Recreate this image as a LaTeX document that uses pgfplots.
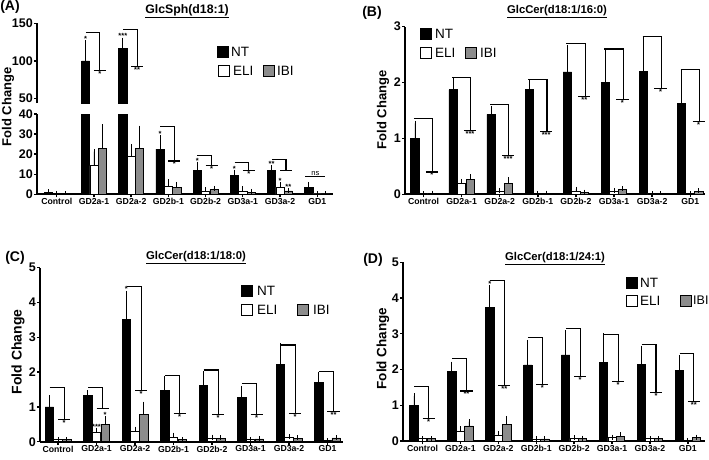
\documentclass[border=0pt]{standalone}
\usepackage{pgfplots}
\usepackage{pgfplotstable}
\pgfplotsset{compat=1.18}
\usepackage{fontspec}
\setmainfont{Liberation Sans}

\pgfplotstableread{
i NT NTe ELI ELIe IBI IBIe
0 1.0 0.3 0.4 0 0.3 0
1 100 24 14.3 7 22.7 11
2 116.5 11 18.8 5 22.7 10.3
3 22.5 5.8 3.8 2.5 3.3 1.7
4 11.7 3.3 1.7 0.5 2.5 0.5
5 9.2 1.8 1.3 1.4 1.0 0.5
6 11.7 1.6 3.7 1.0 1.7 0.3
7 3.3 1.7 0.2 0 0.2 0
}\tA
\pgfplotstableread{
i NT NTe ELI ELIe IBI IBIe
0 1.0 0.27 0.01 0 0.02 0
1 1.87 0.16 0.19 0.04 0.26 0.05
2 1.43 0.11 0.06 0.01 0.20 0.06
3 1.87 0.13 0.01 0 0.02 0
4 2.19 0.43 0.06 0.03 0.04 0
5 2.00 0.57 0.05 0.01 0.08 0.02
6 2.20 0.58 0.01 0 0.01 0
7 1.63 0.56 0.01 0 0.05 0.01
}\tB
\pgfplotstableread{
i NT NTe ELI ELIe IBI IBIe
0 1.00 0.27 0.07 0 0.06 0
1 1.32 0.09 0.28 0.05 0.50 0.17
2 3.52 0.74 0.29 0.07 0.79 0.29
3 1.48 0.34 0.12 0.07 0.07 0
4 1.61 0.35 0.10 0.03 0.10 0.01
5 1.27 0.26 0.07 0 0.08 0
6 2.22 0.54 0.13 0.01 0.10 0.01
7 1.70 0.24 0.03 0 0.11 0.01
}\tC
\pgfplotstableread{
i NT NTe ELI ELIe IBI IBIe
0 1.00 0.26 0.07 0 0.07 0
1 1.94 0.21 0.26 0.08 0.42 0.12
2 3.74 0.55 0.17 0.04 0.47 0.16
3 2.13 0.63 0.06 0 0.06 0
4 2.41 0.62 0.07 0.02 0.07 0.01
5 2.20 0.74 0.09 0.02 0.12 0.05
6 2.14 0.45 0.07 0 0.07 0
7 1.97 0.36 0.02 0 0.10 0.01
}\tD

\pgfplotsset{
  panel/.style={scale only axis, anchor=south west, axis lines=left,
    axis line style={-,line width=2pt}, enlargelimits=false, ymin=0,
    xtick={0,...,7},
    xticklabels={Control,GD2a-1,GD2a-2,GD2b-1,GD2b-2,GD3a-1,GD3a-2,GD1},
    tick align=outside, major tick length=3pt,
    tick style={black,line width=1.4pt},
    x tick label style={font=\bfseries\fontsize{8.7}{9}\selectfont, inner sep=1pt},
    y tick label style={font=\bfseries\fontsize{12.5}{13}\selectfont, inner sep=1pt},
    /pgf/number format/assume math mode=true},
  barbase/.style={ybar, bar width=0.22, bar shift=0pt, line width=0.7pt, draw=black,
    error bars/.cd, y dir=plus, y explicit,
    error bar style={line width=0.8pt,black,solid},
    error mark options={line width=0.8pt,black,mark size=2.5pt}},
  nt/.style={fill=black, barbase},
  eli/.style={fill=white, barbase},
  ibi/.style={fill=black!45, barbase},
}
\tikzset{br/.style={line width=1.1pt,black},
  st/.style={font=\bfseries\fontsize{7.5}{7.5}\selectfont, inner sep=0.6pt},
  lg/.style={anchor=west, inner sep=0pt, font=\fontsize{13.5}{13.5}\selectfont},
  sq/.style={line width=0.8pt, draw=black}}
\newcommand\brk[4]{%
  \draw[br] (axis cs:{#1-0.22},#2) -- (axis cs:{#1+0.16},#2) -- (axis cs:{#1+0.16},#3);
  \draw[br] (axis cs:{#1},#3) -- (axis cs:{#1+0.32},#3);
  \node[st,anchor=north] at (axis cs:{#1+0.16},#3) {#4};}
\newcommand\brkB[4]{%
  \draw[br] (axis cs:{#1-0.25},#2) -- (axis cs:{#1+0.24},#2) -- (axis cs:{#1+0.24},#3);
  \draw[br] (axis cs:{#1+0.06},#3) -- (axis cs:{#1+0.38},#3);
  \node[st,anchor=north] at (axis cs:{#1+0.22},#3) {#4};}
\newcommand\sa[3]{\node[st,anchor=south] at (axis cs:#1,#2) {#3};}
\newcommand\bars[1]{%
  \addplot[nt] table[x expr=\thisrow{i}-0.225, y=NT, y error=NTe]{#1};
  \addplot[eli] table[x expr=\thisrow{i}, y=ELI, y error=ELIe]{#1};
  \addplot[ibi] table[x expr=\thisrow{i}+0.225, y=IBI, y error=IBIe]{#1};}

\begin{document}
\begin{tikzpicture}
\useasboundingbox (0pt,0pt) rectangle (709pt,-460pt);

% ---------------- Panel A lower
\begin{axis}[panel, at={(37pt,-194.3pt)}, width=296pt, height=80.3pt,
  xmin=-0.532, xmax=7.425, ymax=40, ytick={0,10,20,30,40}]
\bars{\tA}
\brk{3}{33.6}{16.6}{*}
\brk{4}{19.5}{14.2}{*}
\brk{5}{15.8}{11.7}{*}
\brk{6}{17.3}{12.0}{}
\sa{2.775}{28.3}{*}
\sa{3.775}{15.0}{*}
\sa{4.775}{11.0}{*}
\sa{5.775}{13.3}{**}
\sa{6}{4.8}{*}
\sa{6.225}{2.0}{**}
\draw[br] (axis cs:6.68,8.7) -- (axis cs:7.22,8.7);
\node[anchor=south, inner sep=1pt, font=\fontsize{7.5}{7.5}\selectfont] at (axis cs:6.95,8.7) {ns};
\end{axis}
% ---------------- Panel A upper
\begin{axis}[scale only axis, anchor=south west, at={(37pt,-103pt)}, width=296pt, height=79.7pt,
  xmin=-0.532, xmax=7.425, ymin=44, ymax=150, enlargelimits=false,
  axis y line=left, axis x line=none, axis line style={-,line width=2pt},
  ytick={50,100,150}, tick align=outside, major tick length=3pt,
  tick style={black,line width=1.4pt},
  y tick label style={font=\bfseries\fontsize{12.5}{13}\selectfont, inner sep=1pt},
  /pgf/number format/assume math mode=true]
\addplot[skip coords between index={0}{1}, skip coords between index={3}{8}, nt]
  table[x expr=\thisrow{i}-0.225, y=NT, y error=NTe]{\tA};
\brk{1}{138}{87.6}{*}
\brk{2}{142}{92}{**}
\sa{0.775}{125}{*}
\sa{1.775}{128.5}{***}
\end{axis}

% ---------------- Panel B
\begin{axis}[panel, at={(405pt,-194.3pt)}, width=300pt, height=167.6pt,
  xmin=-0.486, xmax=7.388, ymax=3, ytick={0,1,2,3}]
\bars{\tB}
\brkB{0}{1.35}{0.40}{*}
\brkB{1}{2.09}{1.15}{***}
\brkB{2}{1.61}{0.69}{***}
\brkB{3}{2.06}{1.13}{***}
\brkB{4}{2.70}{1.75}{**}
\brkB{5}{2.60}{1.70}{*}
\brkB{6}{2.82}{1.90}{*}
\brkB{7}{2.24}{1.30}{*}
\end{axis}

% ---------------- Panel C
\begin{axis}[panel, at={(40pt,-441.7pt)}, width=303pt, height=174pt,
  xmin=-0.468, xmax=7.403, ymax=5, ytick={0,1,2,3,4,5}]
\bars{\tC}
\brk{0}{1.56}{0.65}{*}
\brk{1}{1.56}{0.96}{}
\brk{2}{4.45}{1.46}{*}
\brk{3}{1.91}{0.81}{*}
\brk{4}{2.06}{0.77}{*}
\brk{5}{1.66}{0.79}{*}
\brk{6}{2.78}{0.80}{*}
\brk{7}{2.03}{0.86}{**}
\sa{1.775}{4.28}{*}
\sa{1}{0.34}{***}
\sa{1.225}{0.68}{*}
\end{axis}

% ---------------- Panel D
\begin{axis}[panel, at={(403pt,-441pt)}, width=302pt, height=178.7pt,
  xmin=-0.515, xmax=7.453, ymax=5, ytick={0,1,2,3,4,5}]
\bars{\tD}
\brk{0}{1.52}{0.62}{*}
\brk{1}{2.31}{1.40}{**}
\brk{2}{4.50}{1.55}{**}
\brk{3}{2.90}{1.57}{*}
\brk{4}{3.15}{1.80}{*}
\brk{5}{2.97}{1.66}{*}
\brk{6}{2.69}{1.36}{*}
\brk{7}{2.45}{1.10}{**}
\sa{1.775}{4.30}{*}
\end{axis}

% ---------------- titles, labels, legends
\node[font=\bfseries\fontsize{14}{14}\selectfont] at (10pt,-7pt) {(A)};
\node[font=\bfseries\fontsize{14}{14}\selectfont] at (372pt,-13pt) {(B)};
\node[font=\bfseries\fontsize{14}{14}\selectfont] at (15pt,-258pt) {(C)};
\node[font=\bfseries\fontsize{14}{14}\selectfont] at (373pt,-260pt) {(D)};
\node[font=\bfseries\fontsize{12.3}{12.3}\selectfont, inner sep=0pt] at (187pt,-11pt) {\underline{GlcSph(d18:1)}};
\node[font=\bfseries\fontsize{11.3}{11.3}\selectfont, inner sep=0pt] at (557pt,-12pt) {\underline{GlcCer(d18:1/16:0)}};
\node[font=\bfseries\fontsize{11.3}{11.3}\selectfont, inner sep=0pt] at (196pt,-258pt) {\underline{GlcCer(d18:1/18:0)}};
\node[font=\bfseries\fontsize{11.3}{11.3}\selectfont, inner sep=0pt] at (555pt,-258.5pt) {\underline{GlcCer(d18:1/24:1)}};
\node[rotate=90, font=\bfseries\fontsize{13}{13}\selectfont] at (8pt,-107pt) {Fold Change};
\node[rotate=90, font=\bfseries\fontsize{13}{13}\selectfont] at (383pt,-110pt) {Fold Change};
\node[rotate=90, font=\bfseries\fontsize{14}{14}\selectfont] at (18pt,-352pt) {Fold Change};
\node[rotate=90, font=\bfseries\fontsize{13.5}{13.5}\selectfont] at (383pt,-348.5pt) {Fold Change};
% legend A
\draw[sq, fill=black] (217pt,-46pt) rectangle ++(11pt,-11pt);
\node[lg] at (231pt,-51.5pt) {NT};
\draw[sq, fill=white] (218pt,-65pt) rectangle ++(11pt,-11pt);
\node[lg] at (233pt,-70.5pt) {ELI};
\draw[sq, fill=black!45] (263pt,-65pt) rectangle ++(11pt,-11pt);
\node[lg] at (277pt,-70.5pt) {IBI};
% legend B
\draw[sq, fill=black] (420pt,-28pt) rectangle ++(11pt,-11pt);
\node[lg] at (435pt,-33.5pt) {NT};
\draw[sq, fill=white] (420pt,-47pt) rectangle ++(11pt,-11pt);
\node[lg] at (435pt,-52.5pt) {ELI};
\draw[sq, fill=black!45] (465pt,-47pt) rectangle ++(11pt,-11pt);
\node[lg] at (480pt,-52.5pt) {IBI};
% legend C
\draw[sq, fill=black] (241pt,-285pt) rectangle ++(11pt,-11pt);
\node[lg] at (257pt,-290.5pt) {NT};
\draw[sq, fill=white] (241pt,-304.5pt) rectangle ++(11pt,-11pt);
\node[lg] at (257pt,-310pt) {ELI};
\draw[sq, fill=black!45] (297.5pt,-304.5pt) rectangle ++(11pt,-11pt);
\node[lg] at (313pt,-310pt) {IBI};
% legend D
\draw[sq, fill=black] (626pt,-277pt) rectangle ++(11pt,-11pt);
\node[lg] at (640pt,-282.5pt) {NT};
\draw[sq, fill=white] (626pt,-295pt) rectangle ++(11pt,-11pt);
\node[lg] at (640pt,-300.5pt) {ELI};
\draw[sq, fill=black!45] (680pt,-295pt) rectangle ++(11pt,-11pt);
\node[lg, font=\fontsize{12.5}{12.5}\selectfont] at (693pt,-300.5pt) {IBI};
\end{tikzpicture}
\end{document}
